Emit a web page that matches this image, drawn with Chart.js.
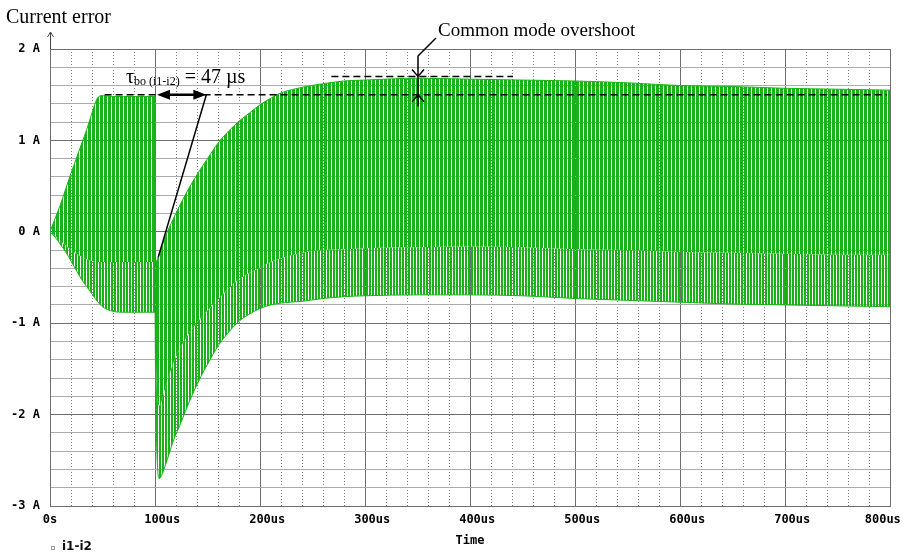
<!DOCTYPE html>
<html>
<head>
<meta charset="utf-8">
<script src="https://cdn.jsdelivr.net/npm/chart.js@4.4.1/dist/chart.umd.min.js"></script>
<style>
  html, body { margin: 0; padding: 0; background: #fff; }
  #wrap { width: 904px; height: 552px; }
</style>
</head>
<body>
<div id="wrap"><canvas id="chart" width="904" height="552"></canvas></div>
<script>
const timeUs = [0, 5, 10, 15, 20, 25, 30, 35, 40, 45,
  50, 60, 70, 80, 90, 100,
  100.5, 104, 110, 117, 125, 133, 143, 150,
  160, 170, 180, 190, 200, 210, 220,
  240, 260, 280, 300,
  350, 400, 450, 500, 550, 600, 650, 700, 750, 800];

// upper peaks (A)
const upperEnv = [0, 0.15, 0.3, 0.47, 0.64, 0.8, 0.96, 1.12, 1.3, 1.46,
  1.49, 1.48, 1.48, 1.48, 1.48, 1.48,
  -0.33, -0.25, -0.05, 0.13, 0.32, 0.49, 0.68, 0.8,
  0.97, 1.1, 1.21, 1.3, 1.39, 1.46, 1.52,
  1.58, 1.62, 1.65, 1.66,
  1.68, 1.67, 1.66, 1.65, 1.63, 1.6, 1.59, 1.57, 1.56, 1.55];

// bottom of the dense band (A)
const innerLowerEnv = [0, -0.05, -0.1, -0.15, -0.2, -0.24, -0.27, -0.3, -0.32, -0.33,
  -0.33, -0.33, -0.33, -0.33, -0.33, -0.33,
  -1.2, -1.9, -1.7, -1.45, -1.25, -1.1, -0.95, -0.86,
  -0.74, -0.62, -0.52, -0.45, -0.39, -0.33, -0.29,
  -0.23, -0.2, -0.19, -0.18,
  -0.17, -0.16, -0.17, -0.19, -0.2, -0.22, -0.23, -0.24, -0.25, -0.25];

// lowest valleys (A)
const outerLowerEnv = [0, -0.06, -0.14, -0.22, -0.32, -0.42, -0.52, -0.6, -0.68, -0.76,
  -0.82, -0.87, -0.88, -0.88, -0.88, -0.88,
  -1.6, -2.7, -2.55, -2.3, -2.08, -1.85, -1.6, -1.45,
  -1.25, -1.1, -0.98, -0.9, -0.84, -0.8, -0.78,
  -0.76, -0.73, -0.71, -0.7,
  -0.69, -0.69, -0.7, -0.73, -0.75, -0.77, -0.79, -0.8, -0.81, -0.82];

const xTicksUs = [0, 100, 200, 300, 400, 500, 600, 700, 800];
const yTicksA = [-3, -2, -1, 0, 1, 2];

// annotation values
const tauStartUs = 100;
const tauUs = 47;
const settleLevel = 1.5;
const overshootLevel = 1.7;
const overshootAtUs = 350;
const settleDashUs = [52, 797];
const overshootDashUs = [268, 441];
const tauPointer = [103, -0.28];

const green = 'rgb(25,178,25)';
const canvas = document.getElementById('chart');
const mainCtx = canvas.getContext('2d');

function stripes(period, on) {
  const c = document.createElement('canvas');
  c.width = period;
  c.height = 1;
  const g = c.getContext('2d');
  g.fillStyle = green;
  g.fillRect(0, 0, on, 1);
  return mainCtx.createPattern(c, 'repeat');
}

const pts = arr => timeUs.map((t, i) => ({ x: t, y: arr[i] }));
const tickFont = { family: '"DejaVu Sans Mono"', size: 12, weight: 'bold' };

const notes = {
  id: 'notes',
  afterDraw(chart) {
    const { ctx, scales: { x, y } } = chart;
    const px = t => x.getPixelForValue(t);
    const py = v => y.getPixelForValue(v);
    ctx.save();

    // y axis arrow
    ctx.strokeStyle = '#444';
    ctx.lineWidth = 1;
    ctx.beginPath();
    ctx.moveTo(x.left + 0.5, y.top);
    ctx.lineTo(x.left + 0.5, y.top - 17);
    ctx.moveTo(x.left - 2.5, y.top - 12);
    ctx.lineTo(x.left + 0.5, y.top - 17);
    ctx.lineTo(x.left + 3.5, y.top - 12);
    ctx.stroke();

    ctx.fillStyle = '#000';
    ctx.font = '20px "Liberation Serif"';
    ctx.textBaseline = 'alphabetic';
    ctx.fillText('Current error', 6, 23);

    // dashed levels
    ctx.strokeStyle = '#000';
    ctx.lineWidth = 1.5;
    ctx.setLineDash([7, 4]);
    ctx.beginPath();
    ctx.moveTo(px(settleDashUs[0]), py(settleLevel));
    ctx.lineTo(px(settleDashUs[1]), py(settleLevel));
    ctx.moveTo(px(overshootDashUs[0]), py(overshootLevel));
    ctx.lineTo(px(overshootDashUs[1]), py(overshootLevel));
    ctx.stroke();
    ctx.setLineDash([]);

    // tau double arrow
    const ya = py(settleLevel);
    const xa = px(tauStartUs) + 2;
    const xb = px(tauStartUs + tauUs) + 2;
    ctx.lineWidth = 2.5;
    ctx.beginPath();
    ctx.moveTo(xa + 8, ya);
    ctx.lineTo(xb - 8, ya);
    ctx.stroke();
    ctx.beginPath();
    ctx.moveTo(xa, ya); ctx.lineTo(xa + 13, ya - 5); ctx.lineTo(xa + 13, ya + 5); ctx.closePath();
    ctx.moveTo(xb, ya); ctx.lineTo(xb - 13, ya - 5); ctx.lineTo(xb - 13, ya + 5); ctx.closePath();
    ctx.fill();

    ctx.lineWidth = 1.5;
    ctx.beginPath();
    ctx.moveTo(xb, ya);
    ctx.lineTo(px(tauPointer[0]), py(tauPointer[1]));
    ctx.stroke();

    // tau label
    let tx = 126;
    ctx.font = '20px "Liberation Serif"';
    ctx.fillText('τ', tx, 83);
    tx += ctx.measureText('τ').width;
    ctx.font = '12px "Liberation Serif"';
    ctx.fillText('bo (i1-i2)', tx, 85);
    tx += ctx.measureText('bo (i1-i2)').width;
    ctx.font = '20px "Liberation Serif"';
    ctx.fillText(' = 47 µs', tx, 83);

    // common mode overshoot pointer
    const xo = px(overshootAtUs) + 0.5;
    const yHi = py(overshootLevel);
    ctx.lineWidth = 1.5;
    ctx.beginPath();
    ctx.moveTo(xo + 18, py(2) - 11);
    ctx.lineTo(xo, py(2) + 7);
    ctx.lineTo(xo, yHi + 30);
    ctx.moveTo(xo - 6, yHi - 7); ctx.lineTo(xo, yHi); ctx.lineTo(xo + 6, yHi - 7);
    ctx.moveTo(xo - 6, ya + 7); ctx.lineTo(xo, ya); ctx.lineTo(xo + 6, ya + 7);
    ctx.stroke();
    ctx.font = '19px "Liberation Serif"';
    ctx.fillText('Common mode overshoot', 438, 36);

    // series name
    ctx.strokeStyle = '#999';
    ctx.lineWidth = 1;
    ctx.strokeRect(51.5, 546.5, 3, 3);
    ctx.font = 'bold 12px "DejaVu Sans"';
    ctx.fillStyle = '#111';
    ctx.fillText('i1-i2', 62, 550);

    ctx.restore();
  }
};

new Chart(canvas, {
  type: 'line',
  data: {
    datasets: [
      {
        label: 'i1-i2',
        data: pts(upperEnv),
        borderColor: green,
        borderWidth: 1,
        backgroundColor: stripes(4, 3),
        fill: '+1',
        pointRadius: 0,
        cubicInterpolationMode: 'monotone'
      },
      {
        label: 'i1-i2 inner',
        data: pts(innerLowerEnv),
        borderWidth: 0,
        borderColor: 'rgba(0,0,0,0)',
        backgroundColor: stripes(3, 2),
        fill: '+1',
        pointRadius: 0,
        cubicInterpolationMode: 'monotone'
      },
      {
        label: 'i1-i2 lower',
        data: pts(outerLowerEnv),
        borderColor: green,
        borderWidth: 1,
        fill: false,
        pointRadius: 0,
        cubicInterpolationMode: 'monotone'
      }
    ]
  },
  options: {
    responsive: false,
    animation: false,
    events: [],
    layout: { padding: { left: 0, right: 14, top: 49, bottom: 4 } },
    scales: {
      x: {
        type: 'linear',
        position: 'bottom',
        min: xTicksUs[0],
        max: xTicksUs[xTicksUs.length - 1],
        afterFit: s => { s.height = 42; s.paddingLeft = 0; s.paddingRight = 0; },
        afterBuildTicks: s => { s.ticks = xTicksUs.map(v => ({ value: v })); },
        ticks: {
          autoSkip: false,
          maxRotation: 0,
          padding: 7,
          color: '#000',
          font: tickFont,
          callback: v => v === 0 ? '0s' : (v === 800 ? v + 'us  ' : '  ' + v + 'us')
        },
        grid: { color: '#6e6e6e', drawTicks: false },
        border: { color: '#6e6e6e' },
        title: { display: true, text: 'Time', color: '#000', font: tickFont, padding: 0 }
      },
      xMinor: {
        type: 'linear',
        position: 'bottom',
        min: 0,
        max: 800,
        afterFit: s => { s.height = 0; s.paddingLeft = 0; s.paddingRight = 0; },
        ticks: { display: false, stepSize: 20, autoSkip: false },
        grid: {
          drawTicks: false,
          color: c => c.tick && c.tick.value % 100 === 0 ? 'rgba(0,0,0,0)' : '#808080'
        },
        border: { display: false, dash: [1, 2] }
      },
      y: {
        min: yTicksA[0],
        max: yTicksA[yTicksA.length - 1],
        afterFit: s => { s.width = 50; s.paddingTop = 0; s.paddingBottom = 0; },
        ticks: {
          stepSize: 0.2,
          autoSkip: false,
          padding: 10,
          color: '#000',
          font: tickFont,
          callback: v => yTicksA.some(t => Math.abs(t - v) < 1e-9) ? Math.round(v) + ' A' : ''
        },
        grid: {
          drawTicks: false,
          color: c => c.tick && yTicksA.some(t => Math.abs(t - c.tick.value) < 1e-9) ? '#6e6e6e' : '#ababab'
        },
        border: { color: '#6e6e6e' }
      }
    },
    plugins: {
      legend: { display: false },
      tooltip: { enabled: false }
    }
  },
  plugins: [notes]
});
</script>
</body>
</html>
